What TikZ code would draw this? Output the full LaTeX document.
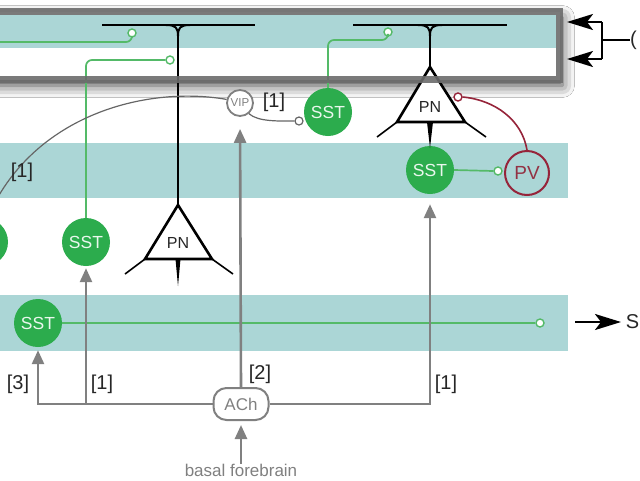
\documentclass[tikz,border=0pt]{standalone}
\usepackage{fontspec}
\setmainfont{Liberation Sans}
\usetikzlibrary{arrows.meta,shadows.blur}
\definecolor{bandc}{RGB}{171,214,214}
\definecolor{sstg}{RGB}{44,172,77}
\definecolor{glc}{RGB}{84,186,104}
\definecolor{grl}{RGB}{128,128,128}
\definecolor{framec}{RGB}{108,108,108}
\definecolor{pvred}{RGB}{150,36,58}
\tikzset{
 sst/.style={circle, fill=sstg, minimum size=48pt, inner sep=0pt, text=white!90!sstg, font=\fontsize{17.5}{17.5}\selectfont},
 syn/.style={circle, draw=glc, fill=white, line width=1.4pt, minimum size=8pt, inner sep=0pt},
 gline/.style={draw=glc, line width=1.7pt, rounded corners=6pt},
 garrow/.style={draw=grl, line width=2.6pt, -{Triangle[length=14pt,width=12pt]}},
 gthin/.style={draw=grl!80!black, line width=1.2pt},
 pntri/.style={draw=black, line width=2.6pt, fill=white, line join=miter},
 dend/.style={draw=black, line width=1.6pt},
 apical/.style={draw=black, line width=2.6pt},
 pnlbl/.style={font=\fontsize{16}{16}\selectfont, text=black!85, inner sep=0pt},
 lbl/.style={font=\fontsize{20}{20}\selectfont, text=black!85, inner sep=0pt},
 blackarrow/.style={draw=black, line width=2.2pt, -{Stealth[length=26pt,width=16pt,inset=6pt]}},
}
\begin{document}
\begin{tikzpicture}[x=1pt,y=-1pt]
\useasboundingbox (0,0) rectangle (640,480);
\clip (0,0) rectangle (640,480);
\fill[white] (0,0) rectangle (640,480);
% frame background with shadow
\path[fill=white, blur shadow={shadow xshift=3pt, shadow yshift=-6pt, shadow blur radius=12pt, shadow opacity=75}] (-20,11.5) rectangle (559.5,79.5);
% bands
\fill[bandc] (-20,15) rectangle (556,48);
\fill[bandc] (-20,143) rectangle (568,198);
\fill[bandc] (-20,295) rectangle (568,351);

% left PN
\coordinate (pnLapex) at (178,205);
\coordinate (pnLbl) at (145,259);
\coordinate (pnLbr) at (212,259);
\draw[dend] (pnLbl) -- (125,274) (pnLbr) -- (233,274);
\draw[pntri] (pnLapex) -- (pnLbl) -- (pnLbr) -- cycle;
\fill (175.5,259) -- (180.5,259) -- (178,286) -- cycle;
\node[pnlbl] (pnL) at (178,243) {PN};
\coordinate (tuftL) at (178,36);
\draw[apical] (102,25) -- (255,25);
\draw[line width=2pt] (166,25) .. controls (176,25) and (178,28) .. (tuftL);
\draw[line width=2pt] (190,25) .. controls (180,25) and (178,28) .. (tuftL);
\draw[apical] (tuftL) -- (pnLapex);

% right PN
\coordinate (pnRapex) at (430,67);
\coordinate (pnRbl) at (397,122);
\coordinate (pnRbr) at (465,122);
\draw[dend] (pnRbl) -- (377,137) (pnRbr) -- (486,137);
\draw[pntri] (pnRapex) -- (pnRbl) -- (pnRbr) -- cycle;
\node[pnlbl] (pnR) at (430,107) {PN};
\coordinate (tuftR) at (430,36);
\draw[apical] (353,25) -- (507,25);
\draw[line width=2pt] (418,25) .. controls (428,25) and (430,28) .. (tuftR);
\draw[line width=2pt] (442,25) .. controls (432,25) and (430,28) .. (tuftR);
\draw[apical] (tuftR) -- (pnRapex);

% SST cells
\node[sst] (sstR) at (430,170) {SST};
\node[sst] (sstT) at (328,112) {SST};
\node[sst] (sstM) at (86,242) {SST};
\node[circle, fill=sstg, minimum size=48pt, inner sep=0pt] (sstX) at (-16,242) {};
\node[sst] (sstB) at (38,323) {SST};
\fill (427,122) -- (433,122) -- (430,148) -- cycle;

% PV
\node[circle, draw=pvred, line width=2pt, minimum size=44pt, inner sep=0pt, text=pvred!85!gray, font=\fontsize{19}{19}\selectfont] (pv) at (527,173) {PV};

% VIP
\node[circle, draw=grl, line width=1.8pt, fill=white, minimum size=26pt, inner sep=0pt, text=grl, font=\fontsize{11.5}{11.5}\selectfont] (vip) at (240,103) {VIP};

% ACh
\node[draw=grl, line width=2pt, fill=white, rounded corners=13pt, minimum width=55pt, minimum height=32pt, inner sep=0pt, text=grl, font=\fontsize{17}{17}\selectfont] (ach) at (241,404) {ACh};
\node[text=grl, inner sep=0pt, font=\fontsize{17}{17}\selectfont] (bf) at (241,470) {basal forebrain};

% synapses (open circles)
\node[syn] (s1) at (170,60) {};
\node[syn] (s2) at (388,32) {};
\node[syn] (s3) at (132,33) {};
\node[syn] (s4) at (540,323) {};
\node[syn] (s5) at (498,171) {};
\node[circle, draw=grl!80!black, fill=white, line width=1.2pt, minimum size=8pt, inner sep=0pt] (s6) at (299,121) {};
\node[circle, draw=pvred, fill=white, line width=1.4pt, minimum size=8pt, inner sep=0pt] (s7) at (458,97) {};
\coordinate (gl) at (-20,42);
\coordinate (curveEnd) at (-8,208);

% green axons
\draw[gline] (sstM.north) |- (s1.west);
\draw[gline] (sstT.north) |- (388,40) -- (s2.south);
\draw[gline] (gl) -| (s3.south);
\draw[gline] (sstB.east) -- (s4.west);
\draw[gline] (sstR.east) -- (s5.west);

% VIP axons
\draw[gthin] (vip.-50) .. controls (258,122) and (280,121) .. (s6.west);
\draw[gthin] (vip.165) .. controls (150,86) and (40,112) .. (curveEnd);

% PV axon
\draw[draw=pvred, line width=1.6pt] (pv.north) .. controls (522,120) and (495,100) .. (s7.east);

% frame stroke
\draw[line width=7pt, draw=framec, opacity=0.9] (-20,11.5) rectangle (559.5,79.5);

% ACh projections
\coordinate (j1) at (86,404);
\draw[garrow, shorten >=3pt] (ach.west) -| (sstB.south);
\draw[garrow, shorten >=2pt] (j1) -- (sstM.south);
\draw[garrow, shorten >=10pt] (ach.east) -| (sstR.south);
\draw[garrow, shorten >=12pt] (ach.north) -- (vip.south);
\draw[garrow, shorten >=4pt] (bf.north) -- (ach.south);

% labels
\node[lbl] (l3) at (18,384) {[3]};
\node[lbl] (l1a) at (102,384) {[1]};
\node[lbl] (l2) at (260,374) {[2]};
\node[lbl] (l1b) at (446,384) {[1]};
\node[lbl] (l1c) at (22,172) {[1]};
\node[lbl] (l1d) at (274,102) {[1]};

% right-side outputs
\coordinate (brT) at (602,22);
\coordinate (brB) at (602,59);
\coordinate (tipT) at (567,22);
\coordinate (tipB) at (567,59);
\draw[line width=2pt] (brT) -- (brB);
\draw[blackarrow] (brT) -- (tipT);
\draw[blackarrow] (brB) -- (tipB);
\node[lbl, anchor=west] (outT) at (630,40) {(};
\draw[line width=2pt] (602,40) -- (outT.west);
\coordinate (arrS) at (575,322);
\node[lbl, anchor=east] (outB) at (639.5,322) {S};
\draw[blackarrow] (arrS) -- (621,322);
\end{tikzpicture}
\end{document}
